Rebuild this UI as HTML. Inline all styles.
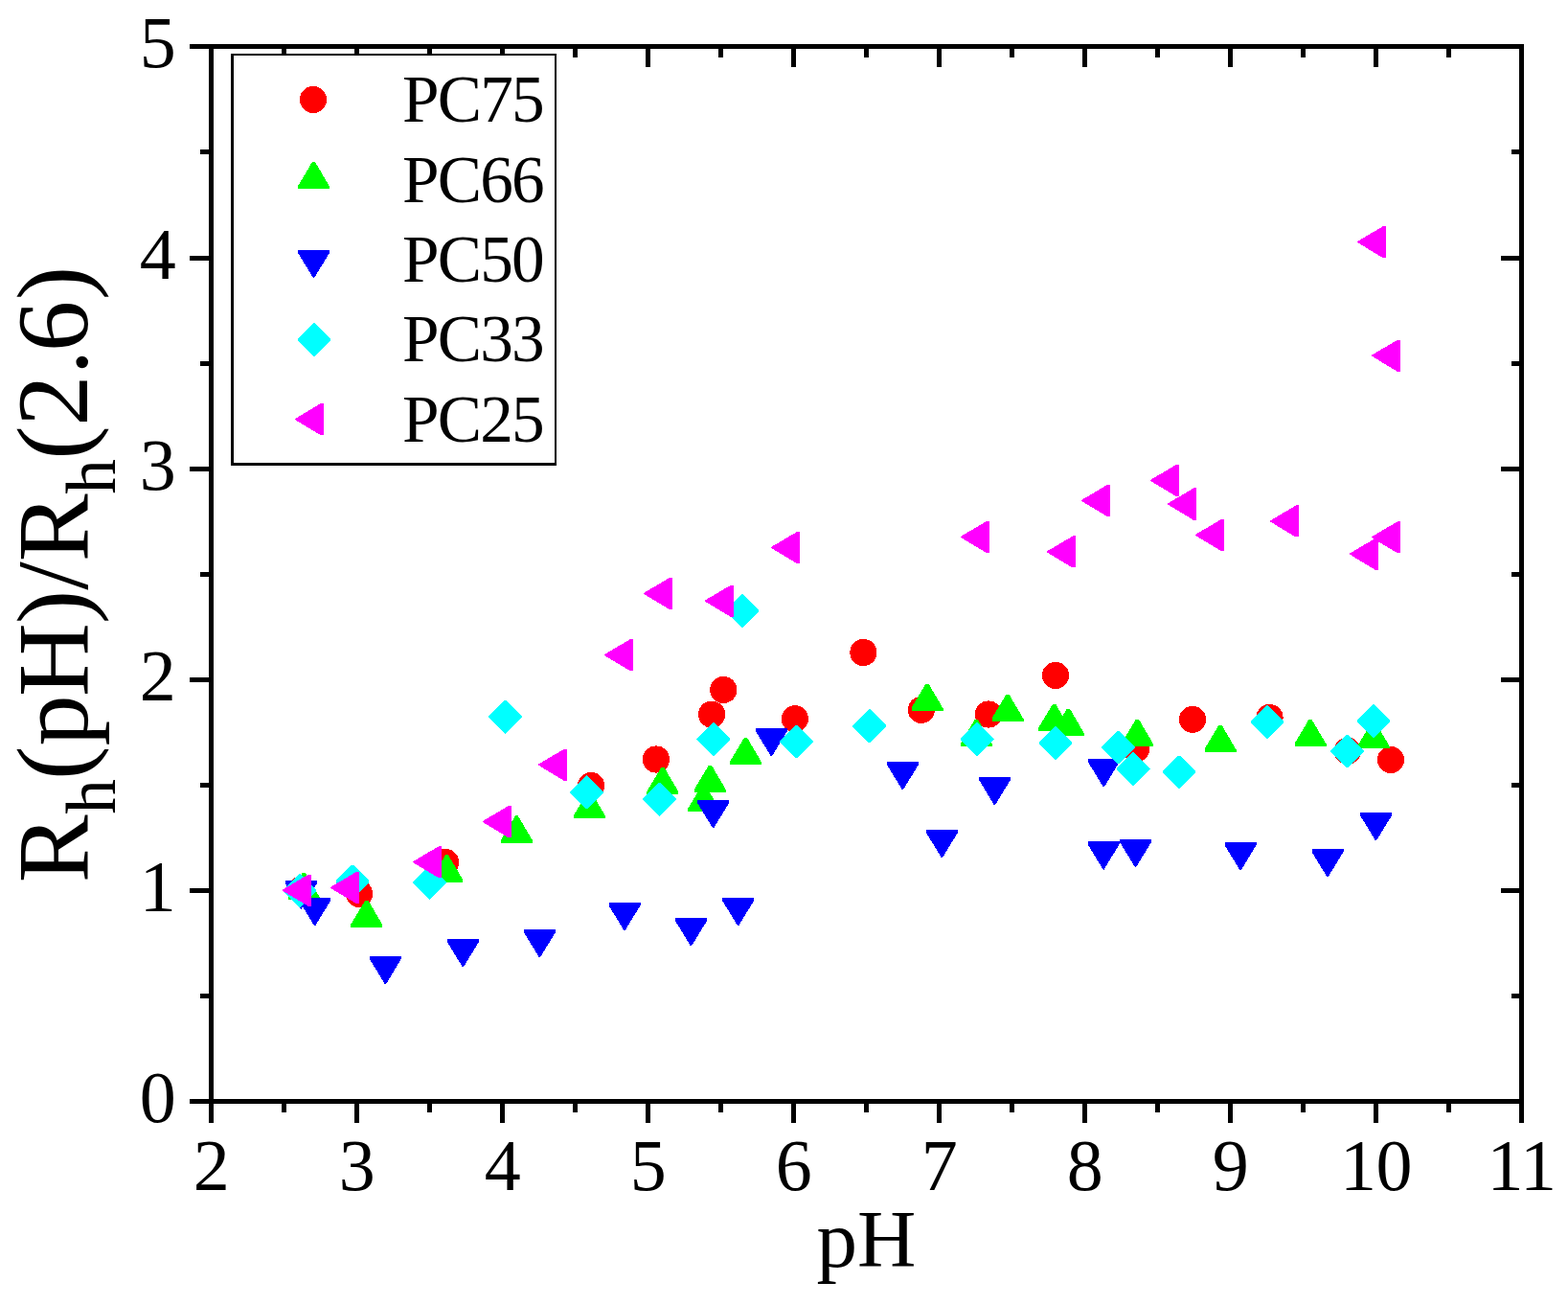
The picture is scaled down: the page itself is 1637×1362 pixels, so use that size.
<!DOCTYPE html>
<html lang="en">
<head>
<meta charset="utf-8">
<title>Rh(pH)/Rh(2.6) versus pH</title>
<style>
html,body{margin:0;padding:0;background:#fff;}
body{width:1637px;height:1362px;overflow:hidden;}
svg{display:block;}
text{font-family:"Liberation Serif","Times New Roman",Times,serif;fill:#000;}
.tick{font-size:76px;letter-spacing:-0.5px;}
.leg{font-size:69.3px;letter-spacing:-1.8px;}
.xt{font-size:85px;}
.yt{font-size:106.3px;}
.sub{font-size:73.3px;}
</style>
</head>
<body>
<svg width="1637" height="1362" viewBox="0 0 1637 1362">
<rect width="1637" height="1362" fill="#fff"/>
<g fill="#000" shape-rendering="crispEdges">
<rect x="198" y="46" width="1393" height="5"/>
<rect x="198" y="1147" width="1393" height="5"/>
<rect x="218" y="46" width="5" height="1126"/>
<rect x="1586" y="46" width="5" height="1126"/>
<rect x="218" y="1152" width="5" height="20"/>
<rect x="218" y="51" width="5" height="19"/>
<rect x="294" y="1152" width="5" height="9"/>
<rect x="294" y="51" width="5" height="9"/>
<rect x="370" y="1152" width="5" height="20"/>
<rect x="370" y="51" width="5" height="19"/>
<rect x="446" y="1152" width="5" height="9"/>
<rect x="446" y="51" width="5" height="9"/>
<rect x="522" y="1152" width="5" height="20"/>
<rect x="522" y="51" width="5" height="19"/>
<rect x="598" y="1152" width="5" height="9"/>
<rect x="598" y="51" width="5" height="9"/>
<rect x="674" y="1152" width="5" height="20"/>
<rect x="674" y="51" width="5" height="19"/>
<rect x="750" y="1152" width="5" height="9"/>
<rect x="750" y="51" width="5" height="9"/>
<rect x="826" y="1152" width="5" height="20"/>
<rect x="826" y="51" width="5" height="19"/>
<rect x="902" y="1152" width="5" height="9"/>
<rect x="902" y="51" width="5" height="9"/>
<rect x="978" y="1152" width="5" height="20"/>
<rect x="978" y="51" width="5" height="19"/>
<rect x="1054" y="1152" width="5" height="9"/>
<rect x="1054" y="51" width="5" height="9"/>
<rect x="1130" y="1152" width="5" height="20"/>
<rect x="1130" y="51" width="5" height="19"/>
<rect x="1206" y="1152" width="5" height="9"/>
<rect x="1206" y="51" width="5" height="9"/>
<rect x="1282" y="1152" width="5" height="20"/>
<rect x="1282" y="51" width="5" height="19"/>
<rect x="1358" y="1152" width="5" height="9"/>
<rect x="1358" y="51" width="5" height="9"/>
<rect x="1434" y="1152" width="5" height="20"/>
<rect x="1434" y="51" width="5" height="19"/>
<rect x="1510" y="1152" width="5" height="9"/>
<rect x="1510" y="51" width="5" height="9"/>
<rect x="1586" y="1152" width="5" height="20"/>
<rect x="1586" y="51" width="5" height="19"/>
<rect x="198" y="1147" width="20" height="5"/>
<rect x="1567" y="1147" width="19" height="5"/>
<rect x="198" y="927" width="20" height="5"/>
<rect x="1567" y="927" width="19" height="5"/>
<rect x="198" y="707" width="20" height="5"/>
<rect x="1567" y="707" width="19" height="5"/>
<rect x="198" y="487" width="20" height="5"/>
<rect x="1567" y="487" width="19" height="5"/>
<rect x="198" y="267" width="20" height="5"/>
<rect x="1567" y="267" width="19" height="5"/>
<rect x="198" y="46" width="20" height="5"/>
<rect x="1567" y="46" width="19" height="5"/>
<rect x="209" y="1037" width="9" height="5"/>
<rect x="1578" y="1037" width="8" height="5"/>
<rect x="209" y="817" width="9" height="5"/>
<rect x="1578" y="817" width="8" height="5"/>
<rect x="209" y="597" width="9" height="5"/>
<rect x="1578" y="597" width="8" height="5"/>
<rect x="209" y="377" width="9" height="5"/>
<rect x="1578" y="377" width="8" height="5"/>
<rect x="209" y="156" width="9" height="5"/>
<rect x="1578" y="156" width="8" height="5"/>
</g>
<g shape-rendering="crispEdges">
<rect x="241" y="56" width="340" height="430" fill="#fff"/>
<rect x="241" y="56" width="3" height="430"/>
<rect x="579" y="56" width="2" height="430"/>
<rect x="241" y="56" width="340" height="2"/>
<rect x="241" y="483" width="340" height="3"/>
</g>
<g shape-rendering="crispEdges">
<g fill="#f00">
<circle cx="314" cy="929" r="14.1"/>
<circle cx="375.1" cy="932.9" r="14.1"/>
<circle cx="465.1" cy="900" r="14.1"/>
<circle cx="617.1" cy="820" r="14.1"/>
<circle cx="685" cy="792.5" r="14.1"/>
<circle cx="743.1" cy="745.6" r="14.1"/>
<circle cx="755.3" cy="720" r="14.1"/>
<circle cx="829.9" cy="750.2" r="14.1"/>
<circle cx="901.4" cy="681" r="14.1"/>
<circle cx="961.9" cy="740.9" r="14.1"/>
<circle cx="1032" cy="745.5" r="14.1"/>
<circle cx="1102" cy="704.9" r="14.1"/>
<circle cx="1186.1" cy="781.3" r="14.1"/>
<circle cx="1245" cy="750.9" r="14.1"/>
<circle cx="1325.5" cy="749" r="14.1"/>
<circle cx="1406.8" cy="783.7" r="14.1"/>
<circle cx="1452" cy="793" r="14.1"/>
<circle cx="327" cy="104" r="14.1"/>
</g>
<g fill="#0f0">
<polygon points="300.8,938.7 300.8,935.7 315.8,910.5 318.6,910.5 333.6,936.2 333.6,938.7"/>
<polygon points="366.4,967.7 366.4,964.7 381.5,939.5 384.3,939.5 399.3,965.2 399.3,967.7"/>
<polygon points="450.2,920.5 450.2,917.5 465.2,892.3 468,892.3 483.1,918 483.1,920.5"/>
<polygon points="522.9,879.6 522.9,876.6 538,851.4 540.8,851.4 555.9,877.1 555.9,879.6"/>
<polygon points="598.9,853.9 598.9,850.9 614,825.7 616.8,825.7 631.9,851.4 631.9,853.9"/>
<polygon points="718.1,846.9 718.1,843.9 733.2,818.7 736,818.7 751.1,844.4 751.1,846.9"/>
<polygon points="675.4,828.9 675.4,825.9 690.5,800.7 693.3,800.7 708.4,826.4 708.4,828.9"/>
<polygon points="724.9,826.7 724.9,823.7 740,798.5 742.8,798.5 757.9,824.2 757.9,826.7"/>
<polygon points="762,797.9 762,794.9 777.1,769.7 779.9,769.7 795,795.4 795,797.9"/>
<polygon points="951.5,741.7 951.5,738.7 966.6,713.5 969.4,713.5 984.5,739.2 984.5,741.7"/>
<polygon points="1035.5,752.7 1035.5,749.7 1050.6,724.5 1053.4,724.5 1068.5,750.2 1068.5,752.7"/>
<polygon points="1002.9,778.8 1002.9,775.8 1018,750.6 1020.8,750.6 1035.8,776.3 1035.8,778.8"/>
<polygon points="1084.1,762.8 1084.1,759.8 1099.2,734.6 1102,734.6 1117,760.3 1117,762.8"/>
<polygon points="1099,767.8 1099,764.8 1114,739.6 1116.8,739.6 1131.9,765.3 1131.9,767.8"/>
<polygon points="1171,778.7 1171,775.7 1186,750.5 1188.8,750.5 1203.9,776.2 1203.9,778.7"/>
<polygon points="1257.5,784.8 1257.5,781.8 1272.6,756.6 1275.4,756.6 1290.5,782.3 1290.5,784.8"/>
<polygon points="1351.5,778.9 1351.5,775.9 1366.6,750.7 1369.4,750.7 1384.5,776.4 1384.5,778.9"/>
<polygon points="1417.5,781 1417.5,778 1432.6,752.8 1435.4,752.8 1450.5,778.5 1450.5,781"/>
<polygon points="311.1,197 311.1,194 326.1,168.8 328.9,168.8 343.9,194.5 343.9,197"/>
</g>
<g fill="#00f">
<polygon points="297.9,919.4 330.8,919.4 330.8,922.4 314.8,948.6 313.8,948.6 297.9,922.4"/>
<polygon points="312.2,937 345.1,937 345.1,940 329.1,966.2 328.1,966.2 312.2,940"/>
<polygon points="385.9,998 418.8,998 418.8,1001 402.9,1027.2 401.9,1027.2 385.9,1001"/>
<polygon points="466.9,980.2 499.8,980.2 499.8,983.2 483.9,1009.4 482.9,1009.4 466.9,983.2"/>
<polygon points="546.9,970.1 579.9,970.1 579.9,973.1 563.9,999.3 562.9,999.3 546.9,973.1"/>
<polygon points="635.5,942 668.5,942 668.5,945 652.5,971.2 651.5,971.2 635.5,945"/>
<polygon points="705,958.1 738,958.1 738,961.1 722,987.3 721,987.3 705,961.1"/>
<polygon points="754.1,937 787.1,937 787.1,940 771.1,966.2 770.1,966.2 754.1,940"/>
<polygon points="728.1,835.1 761.1,835.1 761.1,838.1 745.1,864.3 744.1,864.3 728.1,838.1"/>
<polygon points="788.9,760.1 821.9,760.1 821.9,763.1 805.9,789.3 804.9,789.3 788.9,763.1"/>
<polygon points="925.9,795.1 958.9,795.1 958.9,798.1 942.9,824.3 941.9,824.3 925.9,798.1"/>
<polygon points="1022,811 1054.9,811 1054.9,814 1038.9,840.2 1037.9,840.2 1022,814"/>
<polygon points="1135.8,792.1 1168.8,792.1 1168.8,795.1 1152.8,821.3 1151.8,821.3 1135.8,795.1"/>
<polygon points="966.9,866 999.9,866 999.9,869 983.9,895.2 982.9,895.2 966.9,869"/>
<polygon points="1135.6,878.3 1168.5,878.3 1168.5,881.3 1152.6,907.5 1151.6,907.5 1135.6,881.3"/>
<polygon points="1169,875.9 1202,875.9 1202,878.9 1186,905.1 1185,905.1 1169,878.9"/>
<polygon points="1278.6,879.2 1311.5,879.2 1311.5,882.2 1295.6,908.4 1294.6,908.4 1278.6,882.2"/>
<polygon points="1369.5,886.2 1402.5,886.2 1402.5,889.2 1386.5,915.4 1385.5,915.4 1369.5,889.2"/>
<polygon points="1420,848.1 1453,848.1 1453,851.1 1437,877.3 1436,877.3 1420,851.1"/>
<polygon points="311.1,261 343.9,261 343.9,264 328,290.2 327,290.2 311.1,264"/>
</g>
<g fill="#0ff">
<polygon points="295.7,928.8 312.4,912.1 313.8,912.1 330.4,928.8 330.4,930.2 313.8,946.9 312.4,946.9 295.7,930.2"/>
<polygon points="350.6,919.3 367.3,902.6 368.7,902.6 385.4,919.3 385.4,920.7 368.7,937.4 367.3,937.4 350.6,920.7"/>
<polygon points="430.9,920.5 447.6,903.8 449,903.8 465.7,920.5 465.7,921.9 449,938.6 447.6,938.6 430.9,921.9"/>
<polygon points="510.1,747.4 526.8,730.7 528.2,730.7 544.9,747.4 544.9,748.8 528.2,765.5 526.8,765.5 510.1,748.8"/>
<polygon points="595.1,826.1 611.8,809.4 613.2,809.4 629.9,826.1 629.9,827.5 613.2,844.2 611.8,844.2 595.1,827.5"/>
<polygon points="671.1,833.5 687.8,816.8 689.2,816.8 705.9,833.5 705.9,834.9 689.2,851.6 687.8,851.6 671.1,834.9"/>
<polygon points="727.3,770.8 744,754.1 745.4,754.1 762.1,770.8 762.1,772.2 745.4,788.9 744,788.9 727.3,772.2"/>
<polygon points="757.3,636.8 774,620.1 775.4,620.1 792.1,636.8 792.1,638.2 775.4,654.9 774,654.9 757.3,638.2"/>
<polygon points="814.2,773.3 830.9,756.6 832.3,756.6 849,773.3 849,774.7 832.3,791.4 830.9,791.4 814.2,774.7"/>
<polygon points="890.2,757 906.9,740.3 908.3,740.3 925,757 925,758.4 908.3,775.1 906.9,775.1 890.2,758.4"/>
<polygon points="1002.7,770.8 1019.4,754.1 1020.8,754.1 1037.5,770.8 1037.5,772.2 1020.8,788.9 1019.4,788.9 1002.7,772.2"/>
<polygon points="1084.5,774.8 1101.2,758.1 1102.6,758.1 1119.3,774.8 1119.3,776.2 1102.6,792.9 1101.2,792.9 1084.5,776.2"/>
<polygon points="1150,779.3 1166.7,762.6 1168.1,762.6 1184.8,779.3 1184.8,780.7 1168.1,797.4 1166.7,797.4 1150,780.7"/>
<polygon points="1165.7,801.7 1182.4,785 1183.8,785 1200.5,801.7 1200.5,803.1 1183.8,819.8 1182.4,819.8 1165.7,803.1"/>
<polygon points="1213.6,805.2 1230.3,788.5 1231.7,788.5 1248.4,805.2 1248.4,806.6 1231.7,823.3 1230.3,823.3 1213.6,806.6"/>
<polygon points="1305.6,752.9 1322.3,736.2 1323.7,736.2 1340.4,752.9 1340.4,754.3 1323.7,771 1322.3,771 1305.6,754.3"/>
<polygon points="1389.1,783.3 1405.8,766.6 1407.2,766.6 1423.9,783.3 1423.9,784.7 1407.2,801.4 1405.8,801.4 1389.1,784.7"/>
<polygon points="1416.6,751.9 1433.3,735.2 1434.7,735.2 1451.4,751.9 1451.4,753.3 1434.7,770 1433.3,770 1416.6,753.3"/>
<polygon points="310.6,353.8 327.3,337.1 328.7,337.1 345.4,353.8 345.4,355.2 328.7,371.9 327.3,371.9 310.6,355.2"/>
</g>
<g fill="#f0f">
<polygon points="324.9,912.6 324.9,945.6 321.4,945.6 294.6,929.4 294.6,928.8 322.1,912.6"/>
<polygon points="375,909.9 375,942.9 371.5,942.9 344.7,926.7 344.7,926.1 372.2,909.9"/>
<polygon points="461.1,883.1 461.1,916.1 457.6,916.1 430.8,899.9 430.8,899.3 458.3,883.1"/>
<polygon points="533.8,841 533.8,874 530.3,874 503.5,857.8 503.5,857.2 531,841"/>
<polygon points="592,781.6 592,814.6 588.5,814.6 561.7,798.4 561.7,797.8 589.2,781.6"/>
<polygon points="661,667 661,700 657.5,700 630.7,683.8 630.7,683.2 658.2,667"/>
<polygon points="702,602.9 702,635.9 698.5,635.9 671.7,619.7 671.7,619.1 699.2,602.9"/>
<polygon points="765.9,610.6 765.9,643.6 762.4,643.6 735.6,627.4 735.6,626.8 763.1,610.6"/>
<polygon points="835.1,554.9 835.1,587.9 831.6,587.9 804.8,571.7 804.8,571.1 832.3,554.9"/>
<polygon points="1033,543.9 1033,576.9 1029.5,576.9 1002.7,560.7 1002.7,560.1 1030.2,543.9"/>
<polygon points="1122.9,559.4 1122.9,592.4 1119.4,592.4 1092.6,576.2 1092.6,575.6 1120.1,559.4"/>
<polygon points="1159.1,505.8 1159.1,538.9 1155.6,538.9 1128.8,522.7 1128.8,522.1 1156.3,505.8"/>
<polygon points="1231,484.8 1231,517.9 1227.5,517.9 1200.7,501.7 1200.7,501.1 1228.2,484.8"/>
<polygon points="1249,509.4 1249,542.5 1245.5,542.5 1218.7,526.3 1218.7,525.7 1246.2,509.4"/>
<polygon points="1278,541.9 1278,574.9 1274.5,574.9 1247.7,558.7 1247.7,558.1 1275.2,541.9"/>
<polygon points="1356,527.4 1356,560.4 1352.5,560.4 1325.7,544.2 1325.7,543.6 1353.2,527.4"/>
<polygon points="1439,561.6 1439,594.6 1435.5,594.6 1408.7,578.4 1408.7,577.8 1436.2,561.6"/>
<polygon points="1462.1,544.1 1462.1,577.1 1458.6,577.1 1431.8,560.9 1431.8,560.3 1459.3,544.1"/>
<polygon points="1447.1,235.9 1447.1,269.1 1443.6,269.1 1416.8,252.8 1416.8,252.2 1444.3,235.9"/>
<polygon points="1462.1,354.6 1462.1,387.7 1458.6,387.7 1431.8,371.4 1431.8,370.8 1459.3,354.6"/>
<polygon points="338,420.9 338,454.1 334.5,454.1 307.7,437.8 307.7,437.2 335.2,420.9"/>
</g>
</g>
<g class="leg">
<text x="420" y="127.3">PC75</text>
<text x="420" y="210.6">PC66</text>
<text x="420" y="294">PC50</text>
<text x="420" y="377.3">PC33</text>
<text x="420" y="460.7">PC25</text>
</g>
<g class="tick">
<text x="145.8" y="1171">0</text>
<text x="145.8" y="951">1</text>
<text x="145.8" y="731">2</text>
<text x="145.8" y="511">3</text>
<text x="145.8" y="291">4</text>
<text x="145.8" y="70.2">5</text>
<text x="220.5" y="1241.8" text-anchor="middle">2</text>
<text x="372.5" y="1241.8" text-anchor="middle">3</text>
<text x="524.5" y="1241.8" text-anchor="middle">4</text>
<text x="676.5" y="1241.8" text-anchor="middle">5</text>
<text x="828.5" y="1241.8" text-anchor="middle">6</text>
<text x="980.5" y="1241.8" text-anchor="middle">7</text>
<text x="1132.5" y="1241.8" text-anchor="middle">8</text>
<text x="1284.5" y="1241.8" text-anchor="middle">9</text>
<text x="1436.5" y="1241.8" text-anchor="middle">10</text>
<text x="1588.5" y="1241.8" text-anchor="middle">11</text>
</g>
<text class="xt" x="904.5" y="1322.3" text-anchor="middle">pH</text>
<text class="yt" transform="translate(91 921.2) rotate(-90)"><tspan x="0" y="0">R</tspan><tspan class="sub" x="71.4" y="29.1">h</tspan><tspan x="107.2 142.6 194.3 270 305.5 335" y="0">(pH)/R</tspan><tspan class="sub" x="405.5" y="29.1">h</tspan><tspan x="441.4 476.4 530 554.1 608" y="0">(2.6)</tspan></text>
</svg>
</body>
</html>
